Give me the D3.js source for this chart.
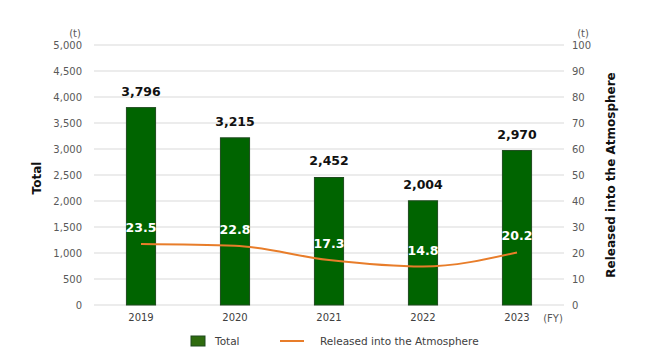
<!DOCTYPE html>
<html><head><meta charset="utf-8">
<script src="https://cdn.jsdelivr.net/npm/d3@7"></script>
<style>body{margin:0;background:#fff}svg{display:block}text{font-family:"DejaVu Sans",Verdana,sans-serif}</style>
</head><body><svg id="c" width="650" height="358"></svg>
<script>
const years = ["2019","2020","2021","2022","2023"];
const totals = [3796,3215,2452,2004,2970];
const released = [23.5,22.8,17.3,14.8,20.2];
const leftTicks = [0,500,1000,1500,2000,2500,3000,3500,4000,4500,5000];
const rightTicks = [0,10,20,30,40,50,60,70,80,90,100];

const svg = d3.select("#c");
const L=94,R=564,T=45,B=305;
const x = d3.scaleBand().domain(years).range([L,R]).paddingInner(0.69).paddingOuter(0.345);
const yL = d3.scaleLinear().domain([0,5000]).range([B,T]);
const yR = d3.scaleLinear().domain([0,100]).range([B,T]);
const cx = d => x(d)+x.bandwidth()/2;

// gridlines
svg.append("g").selectAll("line").data(leftTicks).join("line")
  .attr("x1",L).attr("x2",R).attr("y1",d=>yL(d)).attr("y2",d=>yL(d))
  .attr("stroke","#d9d9d9").attr("stroke-width",1);

// left axis
const gl = svg.append("g").attr("transform",`translate(${L},0)`)
  .call(d3.axisLeft(yL).tickValues(leftTicks).tickFormat(d3.format(",")).tickSize(0).tickPadding(12));
gl.select(".domain").remove();
gl.selectAll("text").attr("font-size",10).attr("fill","#595959").attr("font-family","DejaVu Sans");

// right axis
const gr = svg.append("g").attr("transform",`translate(${R},0)`)
  .call(d3.axisRight(yR).tickValues(rightTicks).tickSize(0).tickPadding(8));
gr.select(".domain").remove();
gr.selectAll("text").attr("font-size",10).attr("fill","#595959").attr("font-family","DejaVu Sans");

// x axis
const gx = svg.append("g").attr("transform",`translate(0,${B})`)
  .call(d3.axisBottom(x).tickSize(0).tickPadding(9));
gx.select(".domain").remove();
gx.selectAll("text").attr("font-size",10).attr("fill","#404040").attr("font-family","DejaVu Sans");

// bars
svg.append("g").selectAll("rect").data(years).join("rect")
  .attr("x",d=>x(d)).attr("width",x.bandwidth())
  .attr("y",(d,i)=>yL(totals[i])).attr("height",(d,i)=>B-yL(totals[i]))
  .attr("fill","#006400").attr("stroke","#1e4a1e").attr("stroke-width",1);

// bar labels
svg.append("g").selectAll("text").data(years).join("text")
  .attr("x",d=>cx(d)).attr("y",(d,i)=>yL(totals[i])-12)
  .attr("text-anchor","middle").attr("font-size",12.5).attr("font-weight","bold").attr("fill","#111")
  .text((d,i)=>d3.format(",")(totals[i]));

// line
const line = d3.line().x((d,i)=>cx(years[i])).y(d=>yR(d)).curve(d3.curveMonotoneX);
svg.append("path").datum(released).attr("d",line).attr("fill","none")
  .attr("stroke","#e87d2a").attr("stroke-width",2);

// line labels
svg.append("g").selectAll("text").data(released).join("text")
  .attr("x",(d,i)=>cx(years[i])).attr("y",d=>yR(d)-12)
  .attr("text-anchor","middle").attr("font-size",12.5).attr("font-weight","bold").attr("fill","#fff")
  .text(d=>d3.format(".1f")(d));

// units
svg.append("text").attr("x",75).attr("y",37).attr("text-anchor","middle").attr("font-size",10).attr("fill","#595959").text("(t)");
svg.append("text").attr("x",583).attr("y",37).attr("text-anchor","middle").attr("font-size",10).attr("fill","#595959").text("(t)");
svg.append("text").attr("x",553).attr("y",322).attr("text-anchor","middle").attr("font-size",10).attr("fill","#595959").text("(FY)");

// axis titles
svg.append("text").attr("transform","translate(41,178) rotate(-90)").attr("text-anchor","middle")
  .attr("font-size",12).attr("font-weight","bold").attr("fill","#111").text("Total");
svg.append("text").attr("transform","translate(615,175) rotate(-90)").attr("text-anchor","middle")
  .attr("font-size",12).attr("font-weight","bold").attr("fill","#111").text("Released into the Atmosphere");

// legend
svg.append("rect").attr("x",191).attr("y",336).attr("width",14).attr("height",10).attr("fill","#2e6b0e").attr("stroke","#1e4a1e");
svg.append("text").attr("x",215).attr("y",345).attr("font-size",10.5).attr("fill","#404040").text("Total");
svg.append("line").attr("x1",280).attr("x2",304).attr("y1",341).attr("y2",341).attr("stroke","#e87d2a").attr("stroke-width",2);
svg.append("text").attr("x",320).attr("y",345).attr("font-size",10.5).attr("fill","#404040").text("Released into the Atmosphere");
</script></body></html>
